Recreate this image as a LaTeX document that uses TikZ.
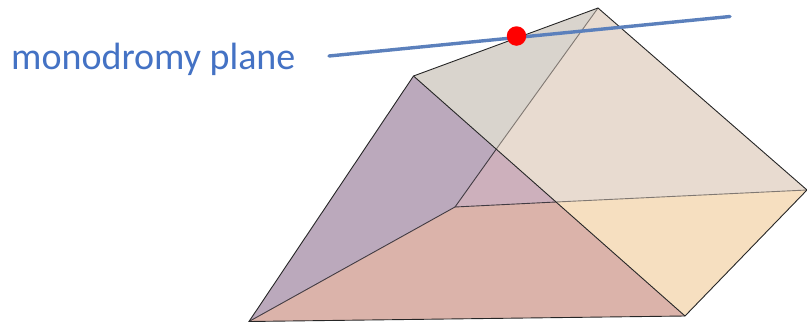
\documentclass[tikz,border=0pt]{standalone}
\usepackage{fontspec}
\setmainfont{Carlito}
\newfontfamily\labelfont{Carlito}
\definecolor{cGray}{HTML}{D9D4CD}
\definecolor{cBeige}{HTML}{E8DBD0}
\definecolor{cPurple}{HTML}{BBA9BC}
\definecolor{cPink}{HTML}{CDB0BC}
\definecolor{cRose}{HTML}{DBB3AA}
\definecolor{cCream}{HTML}{F6DFC0}
\definecolor{cBlue}{HTML}{5B80BC}
\definecolor{cText}{HTML}{4472C4}
\tikzset{
  facet/.style={draw=none},
  edge/.style={draw=black!85,line width=0.9pt},
  softedge/.style={draw=black!45!cBeige,line width=0.9pt},
  midedge/.style={draw=black!65!cPurple,line width=0.9pt},
  planeline/.style={draw=cBlue,line width=3.4pt,line cap=round},
  marker/.style={circle,fill=red,inner sep=0pt,minimum size=19.5pt},
  caption/.style={text=cText,font=\labelfont\fontsize{38}{44}\selectfont,anchor=base west,inner sep=0pt}
}
\begin{document}
\begin{tikzpicture}[x=1pt,y=-1pt]
\useasboundingbox (0,0) rectangle (807,322);
\coordinate (T) at (598,8);
\coordinate (L) at (413.5,76);
\coordinate (R) at (807,190);
\coordinate (A) at (249,321.5);
\coordinate (B) at (685,316);
\coordinate (P) at (455,207);
\coordinate (X) at (496,149.5);
\coordinate (Y) at (556,202);
\coordinate (E1) at (329,56);
\coordinate (E2) at (730,16.5);
\fill[cGray,facet] (L)--(T)--(X)--cycle;
\fill[cBeige,facet] (T)--(R)--(Y)--(X)--cycle;
\fill[cPurple,facet] (L)--(X)--(P)--(A)--cycle;
\fill[cPink,facet] (X)--(Y)--(P)--cycle;
\fill[cRose,facet] (A)--(P)--(Y)--(B)--cycle;
\fill[cCream,facet] (Y)--(R)--(B)--cycle;
\draw[softedge] (T)--(X);
\draw[softedge] (Y)--(R);
\draw[midedge] (X)--(P);
\draw[midedge] (P)--(Y);
\draw[midedge] (A)--(P);
\draw[edge] (A)--(L)--(T)--(R)--(B)--cycle;
\draw[edge] (L)--(B);
\draw[planeline] (E1)--(E2);
\node[marker] (dot) at (516.5,36) {};
\node[caption] (label) at (11,69) {monodromy plane};
\end{tikzpicture}
\end{document}
